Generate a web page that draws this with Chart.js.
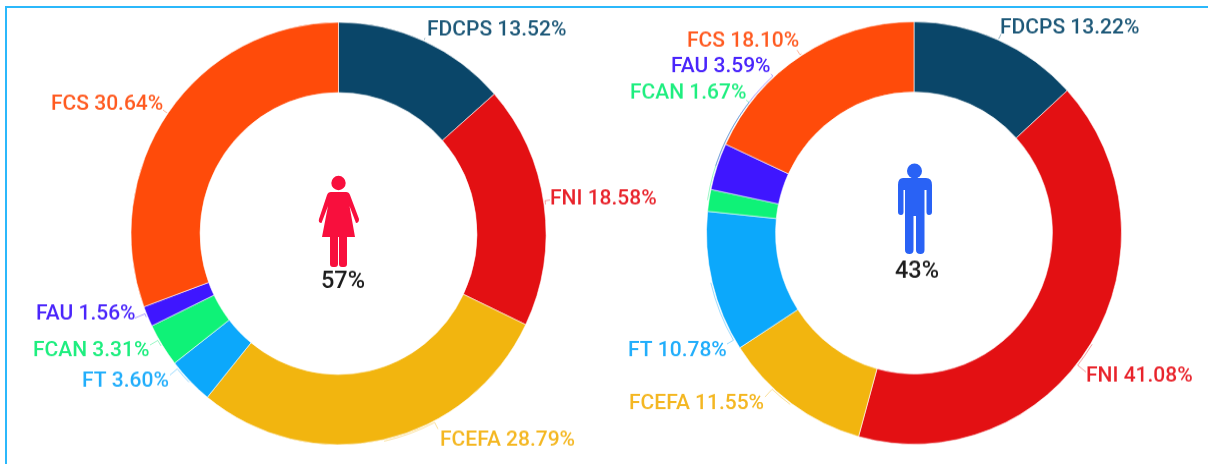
<!DOCTYPE html>
<html><head><meta charset="utf-8">
<script src="https://cdn.jsdelivr.net/npm/chart.js@4"></script>
<style>
html,body{margin:0;padding:0;background:#fff;width:1208px;height:464px;overflow:hidden}
#frame{position:absolute;left:5px;top:6px;width:1210px;height:470px;border-left:2px solid #2bb8fb;border-top:2px solid #2bb8fb;box-sizing:border-box}
canvas{position:absolute;top:0;transform-origin:0 233.5px;transform:scaleY(1.018)}
#c1{left:18px}#c2{left:594px}
svg{position:absolute;left:0;top:0}
</style></head><body>
<div id="frame"></div>
<canvas id="c1" width="640" height="464"></canvas>
<canvas id="c2" width="640" height="464"></canvas>
<svg width="1208" height="464" viewBox="0 0 1208 464">
  <g fill="#f80f3d">
    <circle cx="338.5" cy="183" r="7.2"/>
    <path d="M331 192 H346 Q349 192 350 195 L359 219 Q359 223 356 223 L349.5 206 L355 237 H347 V264 Q347 267 344 267 H342 Q339 267 339 264 V237 H338 V264 Q338 267 335 267 H333 Q330 267 330 264 V237 H322 L328 206 L321.5 223 Q318 223 319 219 L327 195 Q328 192 331 192 Z"/>
  </g>
  <g fill="#2962f5">
    <circle cx="914.5" cy="171" r="7.5"/>
    <path d="M903 178 H926 Q932 178 932 185 V212 Q932 215 929 215 Q926.5 215 926.5 212 V190 H924.5 V250 Q924.5 254 920.5 254 Q916 254 916 250 V216 H913.5 V250 Q913.5 254 909.5 254 Q905 254 905 250 V190 H903.5 V212 Q903.5 215 901 215 Q898 215 898 212 V185 Q898 178 903 178 Z"/>
  </g>
</svg>
<script>
const categories = ["FDCPS","FNI","FCEFA","FT","FCAN","FAU","FCS"];
const womenValues = [13.52,18.58,28.79,3.60,3.31,1.56,30.64];
const menValues = [13.22,41.08,11.55,10.78,1.67,3.59,18.10];
const sliceColors = ["#0a4669","#e31013","#f2b50f","#0ca8fb","#0ff277","#3f16ff","#ff4b0a"];
const labelColors = ["#1d5878","#e8232b","#f4b722","#22aefb","#1eee7f","#4a25fb","#ff5a20"];
const womenShare = "57%";
const menShare = "43%";

const STRETCH = 1.018;
// label placement, page pixels: [text left, text centre y, leader end x, leader end y]
const womenLabelLayout = [[427,29,425,38],[550,198,550,200],[440,439,438,429],[82,380,170,375],[33,350,150,345],[36,313,135,318],[51,103,163,110]];
const menLabelLayout = [[1000,27,1001,34],[1086,375,1086,372],[629,403,765,397],[628,350,727,344],[630,92,746,100],[671,66,771,74],[687,40,797,50]];

const labelPlugin = {
  id:"labels",
  afterDatasetsDraw(chart,args,opts){
    const ctx=chart.ctx, meta=chart.getDatasetMeta(0);
    const vals=chart.data.datasets[0].data;
    const toX=x=>x-opts.left;
    const toY=y=>(y-233.5)/STRETCH+233.5;
    ctx.save();
    ctx.font='500 21px Roboto';
    ctx.textBaseline="middle";ctx.textAlign="left";
    meta.data.forEach((arc,i)=>{
      const p=arc.getProps(["x","y","startAngle","endAngle","outerRadius"],true);
      const mid=(p.startAngle+p.endAngle)/2;
      const l=opts.layout[i];
      const ex=toX(l[2]),ey=toY(l[3]);
      const r=p.outerRadius+1.5;
      let endA=Math.atan2(ey-p.y,ex-p.x);
      while(endA<mid-Math.PI)endA+=2*Math.PI;
      while(endA>mid+Math.PI)endA-=2*Math.PI;
      ctx.globalAlpha=0.45;ctx.strokeStyle=labelColors[i];ctx.lineWidth=1;
      ctx.beginPath();
      ctx.arc(p.x,p.y,r,mid,endA,endA<mid);
      ctx.lineTo(ex,ey);
      ctx.stroke();
      ctx.globalAlpha=1;
      ctx.fillStyle=labelColors[i];
      ctx.fillText(categories[i]+" "+vals[i].toFixed(2)+"%",toX(l[0]),toY(l[1])+1);
    });
    ctx.font='500 23.5px Roboto';ctx.fillStyle="#1c1c1c";ctx.textAlign="center";
    ctx.fillText(opts.share,toX(opts.shareX),toY(opts.shareY)+1.5);
    ctx.restore();
  }
};
function donut(id,values,layout,left,padTop,share,shareX,shareY){
  return new Chart(document.getElementById(id),{
    type:"doughnut",
    data:{labels:categories,datasets:[{data:values,backgroundColor:sliceColors,borderColor:"rgba(255,255,255,0.6)",borderWidth:1}]},
    options:{responsive:false,animation:false,radius:207.5,cutout:"66.7%",
      layout:{padding:{left:left===18?1:0,top:padTop}},
      plugins:{legend:{display:false},tooltip:{enabled:false},labels:{layout,left,share,shareX,shareY}}},
    plugins:[labelPlugin]
  });
}
document.fonts.load('500 21px Roboto').finally(()=>{
  donut("c1",womenValues,womenLabelLayout,18,3,womenShare,343,280);
  donut("c2",menValues,menLabelLayout,594,2,menShare,917,270);
});
</script>
</body></html>
